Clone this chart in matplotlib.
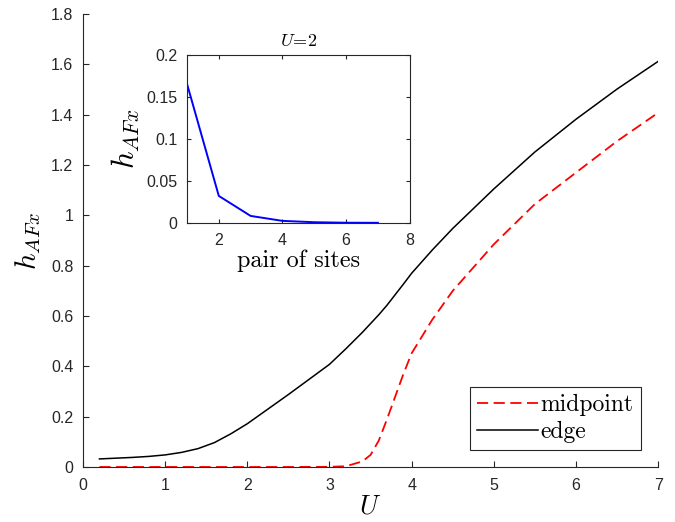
import numpy as np
import matplotlib
matplotlib.use('Agg')
import matplotlib.pyplot as plt
from matplotlib.ticker import FormatStrFormatter, MultipleLocator

plt.rcParams['mathtext.fontset'] = 'cm'
plt.rcParams['font.family'] = ['Liberation Sans', 'DejaVu Sans']
plt.rcParams['lines.scale_dashes'] = False

  ## data
U = [0.2, 0.4, 0.6, 0.8, 1.0, 1.2, 1.4, 1.6, 1.8, 2.0, 2.5, 3.0, 3.2,
     3.4, 3.5, 3.6, 3.7, 3.8, 3.9, 4.0, 4.25, 4.5, 5.0, 5.5, 6.0, 6.5, 7.0]
edge = [0.032, 0.035, 0.038, 0.042, 0.048, 0.058, 0.073, 0.097, 0.132, 0.172,
        0.288, 0.408, 0.470, 0.535, 0.570, 0.605, 0.643, 0.685, 0.727, 0.770,
        0.862, 0.948, 1.105, 1.252, 1.382, 1.502, 1.612]
midpoint = [0.0, 0.0, 0.0, 0.0, 0.0, 0.0, 0.0, 0.0, 0.0, 0.0,
            0.0, 0.0005, 0.003, 0.022, 0.048, 0.105, 0.19, 0.28, 0.37, 0.452,
            0.585, 0.700, 0.885, 1.045, 1.170, 1.295, 1.408]

pair = [1, 2, 3, 4, 5, 6, 7]
h_pair = [0.1656, 0.0321, 0.0083, 0.0024, 0.0008, 0.0002, 0.0001]

axcol = '#262626'

fig = plt.figure(figsize=(6.75, 5.22), dpi=100)

  ## main axes
ax = fig.add_axes([0.123, 0.1054, 0.852, 0.8676])
ax.plot(U, midpoint, color='red', linewidth=1.3, dashes=(8, 4), label='midpoint')
ax.plot(U, edge, color='black', linewidth=1.1, label='edge')
ax.set_xlim(0, 7)
ax.set_ylim(0, 1.8)
ax.xaxis.set_major_locator(MultipleLocator(1))
ax.yaxis.set_major_locator(MultipleLocator(0.2))
ax.yaxis.set_major_formatter(FormatStrFormatter('%g'))
ax.spines['top'].set_visible(False)
ax.spines['right'].set_visible(False)
for s in ['left', 'bottom']:
    ax.spines[s].set_color(axcol)
    ax.spines[s].set_linewidth(0.8)
ax.tick_params(direction='in', length=4.3, width=0.8, colors=axcol, labelsize=11.5)
ax.tick_params(axis='y', pad=7)
ax.tick_params(axis='x', pad=8)
ax.set_xlabel('$U$', fontsize=19, labelpad=1)
ax.set_ylabel('$h_{AFx}$', fontsize=21, labelpad=6)

leg = ax.legend(loc='lower right', bbox_to_anchor=(0.97, 0.0375), fancybox=False,
                edgecolor=axcol, framealpha=1, handlelength=2.6, borderpad=0.3,
                labelspacing=0.2, handletextpad=0.1, borderaxespad=0,
                prop={'family': 'cmr10', 'size': 17})
leg.get_frame().set_linewidth(0.8)

  ## inset
ins = fig.add_axes([0.277, 0.573, 0.330, 0.322])
ins.plot(pair, h_pair, color='blue', linewidth=1.4)
ins.set_xlim(1, 8)
ins.set_ylim(0, 0.2)
ins.set_xticks([2, 4, 6, 8])
ins.set_yticks([0, 0.05, 0.1, 0.15, 0.2])
ins.yaxis.set_major_formatter(FormatStrFormatter('%g'))
for s in ins.spines.values():
    s.set_color(axcol)
    s.set_linewidth(0.8)
ins.tick_params(direction='in', length=3, width=0.8, colors=axcol, labelsize=11.5,
                top=True, right=True)
ins.tick_params(axis='y', pad=7)
ins.tick_params(axis='x', pad=7)
ins.set_title('$U\\!=\\!2$', fontsize=13, pad=6)
ins.set_xlabel('pair of sites', family='cmr10', fontsize=17.5, labelpad=1)
ins.set_ylabel('$h_{AFx}$', fontsize=22, labelpad=3)

fig.savefig('out.png', dpi=100)
